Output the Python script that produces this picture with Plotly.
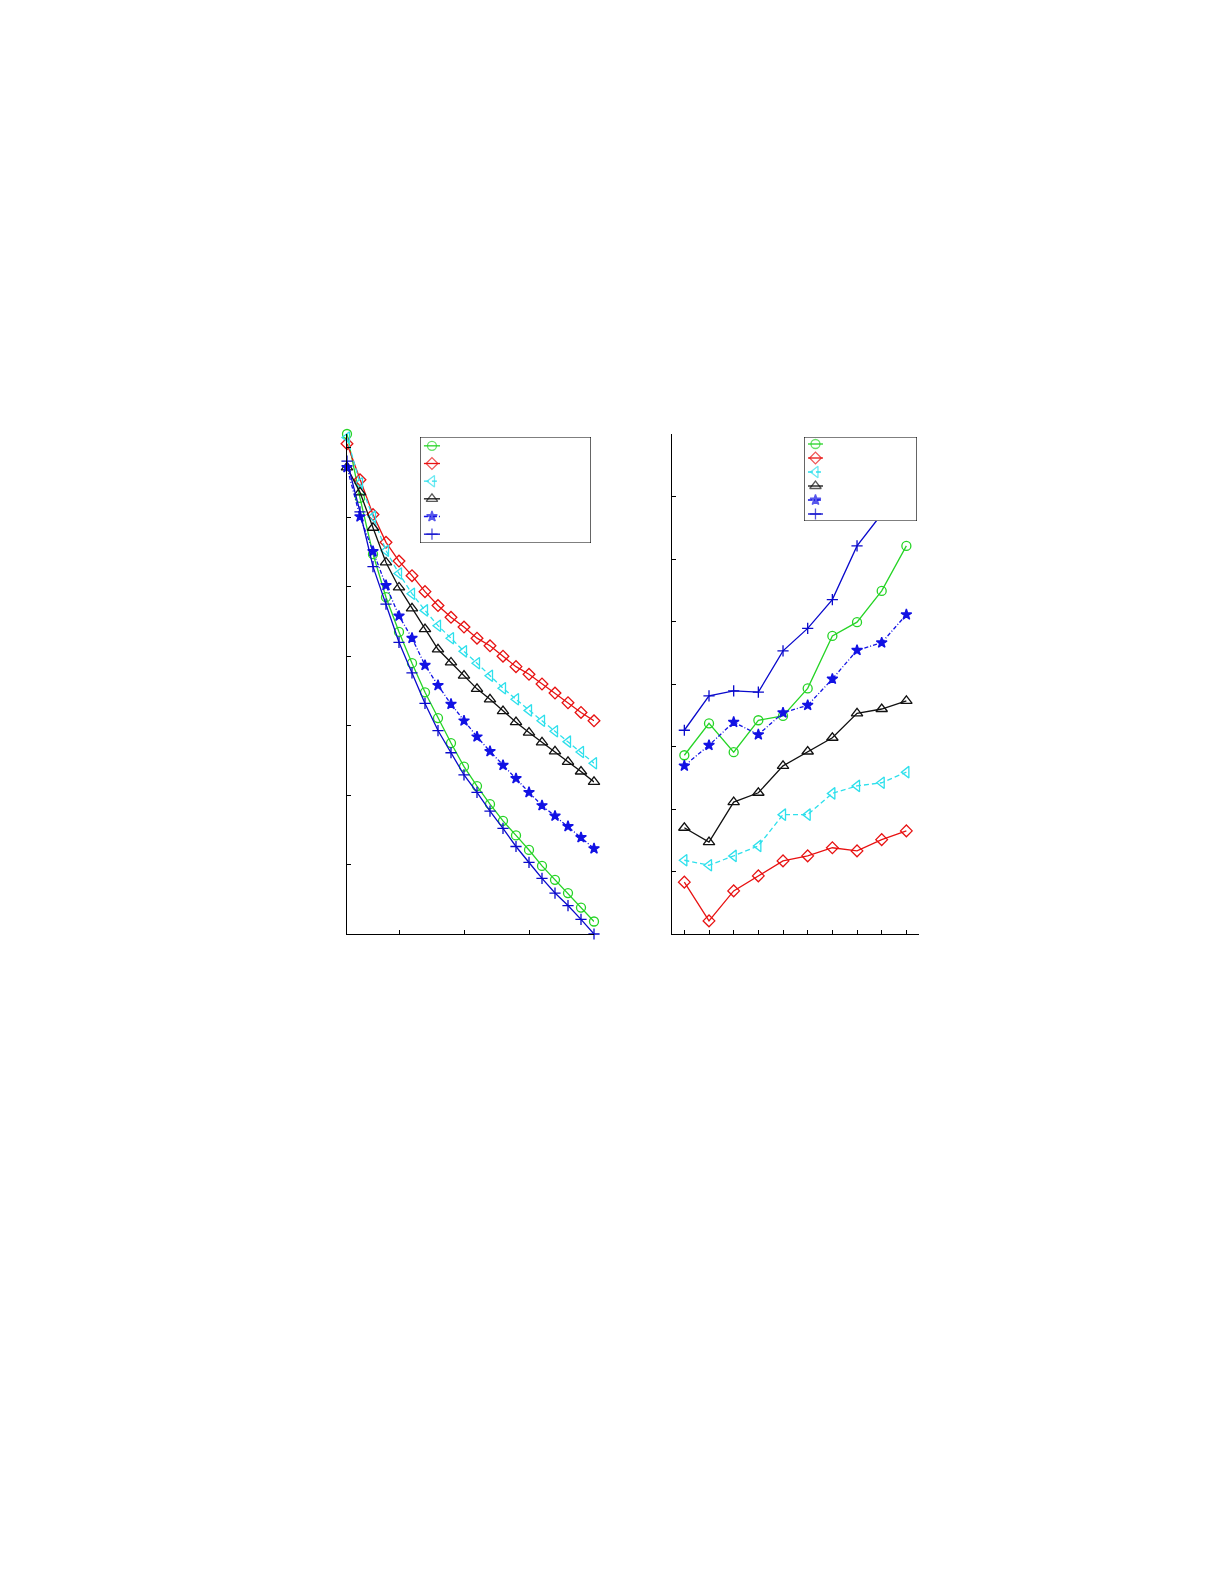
import plotly.graph_objects as go

# left panel: 20 steps, six methods
left_x = list(range(1, 21))
left_green = [7.20, 6.28, 5.47, 4.85, 4.35, 3.90, 3.48, 3.11, 2.75, 2.41,
              2.13, 1.87, 1.63, 1.42, 1.21, 0.98, 0.78, 0.59, 0.38, 0.18]
left_red = [7.06, 6.54, 6.04, 5.64, 5.37, 5.16, 4.93, 4.73, 4.56, 4.42,
            4.26, 4.15, 4.00, 3.85, 3.74, 3.60, 3.47, 3.33, 3.19, 3.07]
left_cyan = [7.15, 6.49, 6.01, 5.52, 5.19, 4.90, 4.66, 4.44, 4.26, 4.07,
             3.90, 3.72, 3.54, 3.38, 3.22, 3.07, 2.92, 2.77, 2.62, 2.46]
left_black = [6.72, 6.36, 5.85, 5.35, 4.99, 4.69, 4.39, 4.10, 3.91, 3.72,
              3.53, 3.38, 3.21, 3.05, 2.90, 2.76, 2.63, 2.48, 2.34, 2.19]
left_star = [6.72, 6.01, 5.51, 5.02, 4.58, 4.26, 3.87, 3.58, 3.31, 3.07,
             2.84, 2.63, 2.43, 2.24, 2.04, 1.85, 1.70, 1.55, 1.39, 1.23]
left_plus = [6.81, 6.08, 5.29, 4.75, 4.20, 3.76, 3.32, 2.93, 2.61, 2.29,
             2.04, 1.77, 1.52, 1.26, 1.03, 0.80, 0.59, 0.41, 0.21, 0.00]

# right panel: 10 points
right_x = list(range(1, 11))
right_green = [2.86, 3.37, 2.91, 3.42, 3.49, 3.93, 4.77, 4.99, 5.49, 6.21]
right_red = [0.83, 0.21, 0.69, 0.93, 1.17, 1.25, 1.38, 1.33, 1.51, 1.65]
right_cyan = [1.18, 1.10, 1.25, 1.41, 1.91, 1.91, 2.25, 2.37, 2.42, 2.59]
right_black = [1.70, 1.47, 2.11, 2.26, 2.69, 2.92, 3.14, 3.53, 3.60, 3.73]
right_star = [2.69, 3.02, 3.39, 3.19, 3.54, 3.66, 4.08, 4.54, 4.66, 5.11]
right_plus = [3.26, 3.81, 3.89, 3.87, 4.53, 4.89, 5.35, 6.21, 6.72, 7.30]

W, H = 1225, 1585
OFF = 8  # page body margin in the browser
LW = 1.3

# style per series: colour, dash, marker symbol, marker size
styles = [
    ("#26d426", "solid", "circle-open", 9),
    ("#e81212", "solid", "diamond-open", 9),
    ("#2ee0ec", "5px,3px", "triangle-left-open", 10),
    ("#111111", "solid", "triangle-up-open", 10),
    ("#1212e4", "4px,2px,1px,2px", "star", 8),
    ("#0a0acc", "solid", "cross-thin-open", 8),
]

left_series = [left_green, left_red, left_cyan, left_black, left_star, left_plus]
right_series = [right_green, right_red, right_cyan, right_black, right_star, right_plus]


def px_x(a, b):
    return [(a - OFF) / W, (b - OFF) / W]


def px_y(top, bottom):
    return [1 - (bottom - OFF) / H, 1 - (top - OFF) / H]


fig = go.Figure()

for ys, (col, dash, sym, size) in zip(left_series, styles):
    fig.add_trace(go.Scatter(
        x=left_x, y=ys, xaxis="x", yaxis="y", mode="lines+markers",
        line=dict(color=col, width=LW, dash=dash),
        marker=dict(symbol=sym, size=size, color=col, line=dict(color=col, width=LW)),
        cliponaxis=False, showlegend=False, hoverinfo="skip"))

for ys, (col, dash, sym, size) in zip(right_series, styles):
    fig.add_trace(go.Scatter(
        x=right_x, y=ys, xaxis="x2", yaxis="y2", mode="lines+markers",
        line=dict(color=col, width=LW, dash=dash),
        marker=dict(symbol=sym, size=size, color=col, line=dict(color=col, width=LW)),
        cliponaxis=False, showlegend=False, hoverinfo="skip"))


# hand-drawn legend boxes (empty labels, like the reference)
def add_legend(xa, ya, sample):
    n = len(styles)
    fig.add_trace(go.Scatter(
        x=[0, 1, 1, 0, 0], y=[-0.5, -0.5, n - 0.5, n - 0.5, -0.5],
        xaxis=xa, yaxis=ya, mode="lines", fill="toself", fillcolor="white",
        line=dict(color="black", width=1.2), cliponaxis=False,
        showlegend=False, hoverinfo="skip"))
    a, b = sample
    for k, (col, dash, sym, size) in enumerate(styles):
        fig.add_trace(go.Scatter(
            x=[a, (a + b) / 2, b], y=[k, k, k], xaxis=xa, yaxis=ya,
            mode="lines+markers",
            line=dict(color=col, width=LW, dash=dash),
            marker=dict(symbol=sym, size=[0, size, 0], color=col,
                        line=dict(color=col, width=LW)),
            cliponaxis=False, showlegend=False, hoverinfo="skip"))


add_legend("x3", "y3", (0.023, 0.117))
add_legend("x4", "y4", (0.035, 0.168))

axis_style = dict(showline=True, linecolor="black", linewidth=1.2, ticks="inside",
                  ticklen=4, tickcolor="black", tickwidth=1.2, showticklabels=False,
                  showgrid=False, zeroline=False, mirror=False)
hidden = dict(visible=False, showgrid=False, zeroline=False)

fig.update_layout(
    width=W, height=H, margin=dict(l=0, r=0, t=0, b=0),
    paper_bgcolor="white", plot_bgcolor="white",
    xaxis=dict(domain=px_x(347, 594), range=[1, 20], tickvals=[5, 10, 15, 20],
               anchor="y", **axis_style),
    yaxis=dict(domain=px_y(434, 934), range=[0, 7.2], tick0=0, dtick=1,
               anchor="x", **axis_style),
    xaxis2=dict(domain=px_x(672, 918.7), range=[0.5, 10.5], tickvals=right_x,
                anchor="y2", **axis_style),
    yaxis2=dict(domain=px_y(434, 934), range=[0, 8], tick0=0, dtick=1,
                anchor="x2", **axis_style),
    xaxis3=dict(domain=px_x(420, 591), range=[0, 1], anchor="y3", **hidden),
    yaxis3=dict(domain=px_y(437, 543), range=[5.5, -0.5], anchor="x3", **hidden),
    xaxis4=dict(domain=px_x(804, 917), range=[0, 1], anchor="y4", **hidden),
    yaxis4=dict(domain=px_y(437, 521), range=[5.5, -0.5], anchor="x4", **hidden),
)

fig.write_html("out.html")
